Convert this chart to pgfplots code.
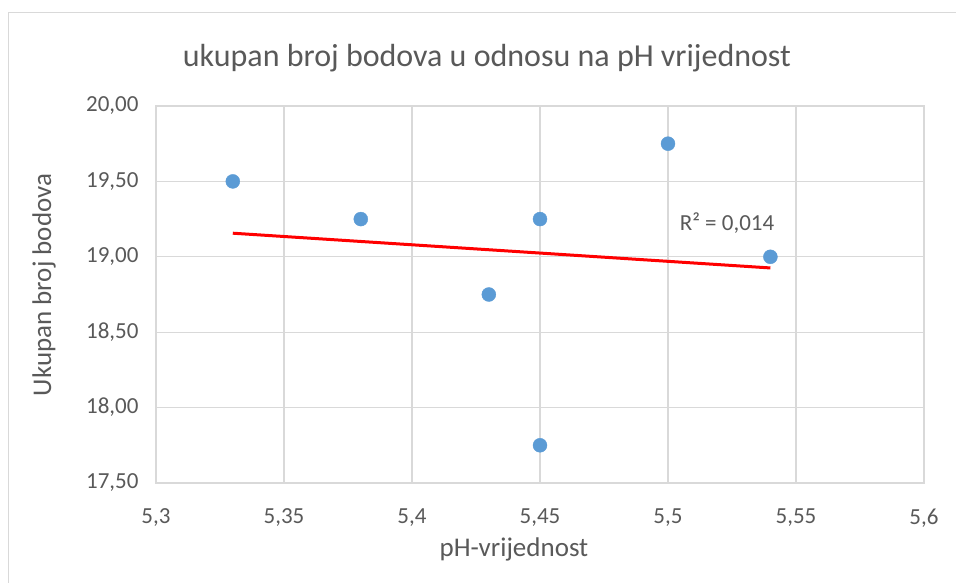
\documentclass[border=0pt]{standalone}
\usepackage{fontspec}
\setmainfont{Carlito}
\usepackage{pgfplots}
\pgfplotsset{compat=1.18}
\definecolor{txt}{RGB}{89,89,89}
\definecolor{gridc}{RGB}{217,217,217}
\definecolor{mk}{RGB}{91,155,213}
\begin{document}
\begin{tikzpicture}[x=1pt,y=1pt]
\useasboundingbox (0,0) rectangle (956,583);
\draw[gridc, line width=1.2pt] (8.5,-100) -- (8.5,570.5) -- (1100,570.5);
\begin{axis}[at={(156pt,100pt)}, anchor=south west,
  width=768pt, height=377pt, scale only axis,
  xmin=5.3, xmax=5.6, ymin=17.5, ymax=20,
  xtick={5.3,5.35,5.4,5.45,5.5,5.55,5.6},
  ytick={17.5,18,18.5,19,19.5,20},
  grid=major, major grid style={gridc, line width=1.2pt},
  axis line style={gridc, line width=1.2pt},
  tick style={draw=none},
  /pgf/number format/assume math mode=true,
  xticklabel style={font=\fontsize{23}{23}\selectfont, text=txt, /pgf/number format/use comma, /pgf/number format/precision=2, yshift=-22pt},
  yticklabel style={font=\fontsize{23}{23}\selectfont, text=txt, /pgf/number format/use comma, /pgf/number format/fixed, /pgf/number format/fixed zerofill, /pgf/number format/precision=2, xshift=-14pt},
  clip=false,
]
\addplot[red, line width=3pt] coordinates {(5.33,19.1565) (5.54,18.926)};
\addplot[only marks, mark=*, mark size=7pt, mark options={fill=mk, draw=mk}] coordinates {
(5.33,19.5) (5.38,19.25) (5.43,18.75) (5.45,19.25) (5.45,17.75) (5.50,19.75) (5.54,19.0)};
\end{axis}
\node[text=txt, font=\fontsize{32}{32}\selectfont] at (487,525) {ukupan broj bodova u odnosu na pH vrijednost};
\node[text=txt, font=\fontsize{27}{27}\selectfont] at (514,34) {pH-vrijednost};
\node[text=txt, font=\fontsize{27}{27}\selectfont, rotate=90] at (44,298) {Ukupan broj bodova};
\node[text=txt, font=\fontsize{23}{23}\selectfont] at (727,360) {R² = 0,014};
\end{tikzpicture}
\end{document}
